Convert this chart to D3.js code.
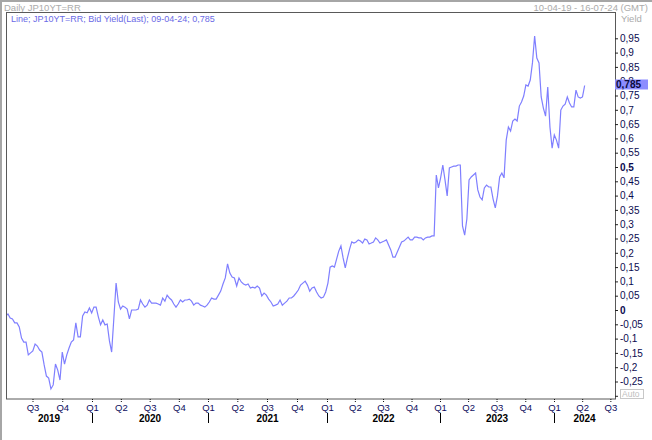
<!DOCTYPE html>
<html><head><meta charset="utf-8">
<script src="https://cdn.jsdelivr.net/npm/d3@7"></script>
<style>
body{margin:0;background:#fff;}
svg{display:block;font-family:"Liberation Sans",Arial,sans-serif;}
</style>
</head><body>
<svg id="chart" width="652" height="440"></svg>
<script>
// ---- data ----
const titleText = "Daily JP10YT=RR";
const rangeText = "10-04-19 - 16-07-24 (GMT)";
const legendText = "Line; JP10YT=RR; Bid Yield(Last); 09-04-24; 0,785";
const axisTitle = "Yield";
const firstWeek = "2019-04-09";           // weekly observations (Tuesdays)
const axisDates = ["2019-04-10","2020-01-01","2021-01-01","2022-01-01","2023-01-01","2024-01-01","2024-07-16"];
const yearLabels = ["2019","2020","2021","2022","2023","2024"];
const yieldTicks = [-0.3,-0.25,-0.2,-0.15,-0.1,-0.05,0,0.05,0.1,0.15,0.2,0.25,0.3,0.35,0.4,0.45,0.5,0.55,0.6,0.65,0.7,0.75,0.8,0.85,0.9,0.95];
const unlabeledTicks = [-0.3];
const boldTicks = [0, 0.5];
const lastValue = 0.785;
const lastLabel = "0,785";
const weeklyYield = [
-0.021,-0.014,-0.028,-0.031,-0.045,-0.045,-0.059,-0.098,-0.112,-0.112,
-0.157,-0.150,-0.143,-0.119,-0.126,-0.140,-0.147,-0.192,-0.231,-0.238,
-0.276,-0.262,-0.189,-0.210,-0.245,-0.147,-0.189,-0.157,-0.133,-0.112,
-0.105,-0.045,-0.094,-0.094,-0.021,-0.007,-0.010,0.007,-0.010,0.010,
0.010,-0.024,-0.052,-0.035,-0.052,-0.049,-0.108,-0.147,-0.028,0.094,
0.028,0.003,0.014,0.010,0.003,-0.031,0,0,0,0.003,
0.035,0.021,0.010,0.017,0.035,0.024,0.024,0.024,0.021,0.017,
0.042,0.031,0.052,0.042,0.035,0.021,0.010,0.021,0.035,0.028,
0.035,0.035,0.038,0.031,0.017,0.024,0.024,0.017,0.014,0.010,
0.017,0.028,0.042,0.038,0.038,0.052,0.066,0.091,0.112,0.161,
0.129,0.115,0.112,0.084,0.112,0.098,0.091,0.087,0.091,0.077,
0.080,0.077,0.084,0.077,0.049,0.059,0.052,0.038,0.028,0.014,
0.017,0.021,0.035,0.017,0.024,0.031,0.042,0.042,0.049,0.059,
0.070,0.087,0.094,0.101,0.087,0.066,0.077,0.080,0.063,0.049,
0.042,0.045,0.063,0.094,0.150,0.154,0.150,0.178,0.206,0.224,
0.182,0.147,0.182,0.213,0.238,0.234,0.238,0.245,0.241,0.234,
0.248,0.245,0.231,0.234,0.238,0.252,0.245,0.234,0.238,0.241,
0.245,0.227,0.210,0.185,0.185,0.203,0.220,0.238,0.241,0.248,
0.255,0.245,0.245,0.255,0.255,0.252,0.252,0.245,0.252,0.255,
0.255,0.259,0.259,0.472,0.427,0.462,0.507,0.455,0.399,0.497,
0.500,0.503,0.503,0.507,0.507,0.294,0.262,0.318,0.455,0.465,
0.472,0.479,0.420,0.395,0.385,0.427,0.437,0.430,0.430,0.388,
0.357,0.399,0.465,0.479,0.462,0.594,0.640,0.626,0.661,0.668,
0.661,0.713,0.727,0.748,0.787,0.783,0.804,0.864,0.958,0.881,
0.864,0.745,0.706,0.678,0.780,0.640,0.566,0.612,0.594,0.566,
0.699,0.713,0.720,0.745,0.724,0.710,0.710,0.769,0.745,0.741,
0.745,0.785
];

// ---- layout ----
const W = 652, H = 440;
const frame = {left: 6, top: 12, right: 615, bottom: 399};
const parse = d3.utcParse("%Y-%m-%d");
const t0 = parse(firstWeek);
const series = weeklyYield.map((v, i) => ({date: d3.utcDay.offset(t0, 7 * i), value: v}));

const x = d3.scaleUtc()
  .domain(axisDates.map(parse))
  .range([6, 92, 208, 327, 440, 554, 615]);
const y = d3.scaleLinear().domain([0, 1]).range([310, 24]);

const svg = d3.select("#chart");
svg.append("rect").attr("width", W).attr("height", H).attr("fill", "#fff");
// outer gray border (top/left)
svg.append("line").attr("x1", 0).attr("x2", W).attr("y1", 1).attr("y2", 1).attr("stroke", "#a6a6a6").attr("stroke-width", 2);
svg.append("line").attr("x1", 1).attr("x2", 1).attr("y1", 0).attr("y2", H).attr("stroke", "#a6a6a6").attr("stroke-width", 2);

svg.append("text").attr("x", 4).attr("y", 11).attr("font-size", 9.5).attr("fill", "#ababab").text(titleText);
svg.append("text").attr("x", 648).attr("y", 11).attr("text-anchor", "end").attr("font-size", 9.5).attr("fill", "#ababab").text(rangeText);
svg.append("text").attr("x", 621).attr("y", 22).attr("font-size", 9.5).attr("fill", "#ababab").text(axisTitle);

// clip
svg.append("clipPath").attr("id", "clip").append("rect")
  .attr("x", frame.left).attr("y", frame.top)
  .attr("width", frame.right - frame.left).attr("height", frame.bottom - frame.top);

// line
const line = d3.line().x(d => x(d.date)).y(d => y(d.value));
svg.append("path").datum(series)
  .attr("clip-path", "url(#clip)")
  .attr("fill", "none").attr("stroke", "#7f7fff").attr("stroke-width", 1.2)
  .attr("stroke-linejoin", "miter")
  .attr("d", line);

// frame
svg.append("rect")
  .attr("x", frame.left + 0.5).attr("y", frame.top + 0.5)
  .attr("width", frame.right - frame.left).attr("height", frame.bottom - frame.top - 0.5)
  .attr("fill", "none").attr("stroke", "#595959").attr("stroke-width", 1);

// legend
svg.append("text").attr("x", 11).attr("y", 22).attr("font-size", 9).attr("fill", "#6a6ae6").text(legendText);

// right axis
const loc = d3.formatLocale({decimal: ",", thousands: ".", grouping: [3], currency: ["", ""], minus: "-"});
const fmt = loc.format(".2~f");
const yAxis = d3.axisRight(y).tickValues(yieldTicks).tickSize(3).tickPadding(2)
  .tickFormat(d => unlabeledTicks.includes(d) ? "" : fmt(d));
const gy = svg.append("g").attr("transform", `translate(${frame.right},0)`).call(yAxis);
gy.select(".domain").remove();
gy.selectAll(".tick line").attr("stroke", "#222");
gy.selectAll(".tick text")
  .attr("font-size", 10).attr("fill", "#0b0b50")
  .attr("font-weight", d => boldTicks.includes(d) ? "bold" : "normal")
  .attr("font-family", "'Liberation Sans',Arial,sans-serif");

// last value marker
const ly = y(lastValue);
svg.append("rect").attr("x", frame.right).attr("y", ly - 6).attr("width", 33).attr("height", 10).attr("fill", "#8c8cff");
svg.append("text").attr("x", frame.right + 1).attr("y", ly + 2.5).attr("font-size", 10).attr("font-weight", "bold").attr("fill", "#0a0a3c").text(lastLabel);

// Auto box
svg.append("rect").attr("x", 620.5).attr("y", 389.5).attr("width", 23).attr("height", 9).attr("fill", "#fff").attr("stroke", "#c8c8c8");
svg.append("text").attr("x", 622).attr("y", 397.3).attr("font-size", 8.5).attr("fill", "#c0c0c0").text("Auto");

// bottom axis: quarters
const quarters = d3.utcMonth.every(3).range(parse("2019-07-01"), parse("2024-07-02"));
const xAxis = d3.axisBottom(x).tickValues(quarters).tickSize(3).tickPadding(2)
  .tickFormat(d => "Q" + (Math.floor(d.getUTCMonth() / 3) + 1));
const gx = svg.append("g").attr("transform", `translate(0,${frame.bottom})`).call(xAxis);
gx.select(".domain").remove();
gx.selectAll(".tick line").attr("stroke", "#111").attr("stroke-dasharray", "1,1");
gx.selectAll(".tick text").attr("font-size", 9.5).attr("fill", "#0e0e5e")
  .attr("font-family", "'Liberation Sans',Arial,sans-serif");

// year separators and labels
const dStart = x.domain()[0], dEnd = x.domain()[x.domain().length - 1];
yearLabels.forEach(yr => {
  const a = parse(yr + "-01-01"), b = parse((+yr + 1) + "-01-01");
  if (a > dStart) {
    svg.append("line").attr("x1", Math.round(x(a)) + 0.5).attr("x2", Math.round(x(a)) + 0.5)
      .attr("y1", 413).attr("y2", 423).attr("stroke", "#000");
  }
  const xa = x(a > dStart ? a : dStart), xb = x(b < dEnd ? b : dEnd);
  svg.append("text").attr("x", (xa + xb) / 2).attr("y", 422).attr("text-anchor", "middle")
    .attr("font-size", 10).attr("font-weight", "bold").attr("fill", "#000").text(yr);
});
</script>
</body></html>
